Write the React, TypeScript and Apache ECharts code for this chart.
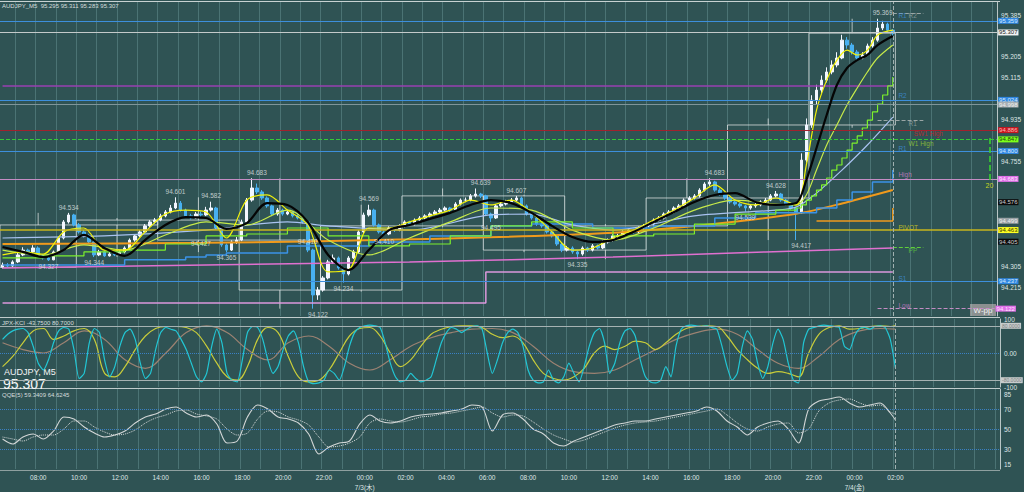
import React, { useEffect, useRef } from "react";
import * as echarts from "echarts";

// ---------------- categories: 15-minute slots from 7/2 06:15 ----------------
const N_SLOTS = 196;
const CATEGORIES: string[] = Array.from({ length: N_SLOTS }, (_, k) => {
  const m = 6 * 60 + 15 + 15 * k;
  const d = 2 + Math.floor(m / 1440);
  const mm = m % 1440;
  return `7/${d} ${String(Math.floor(mm / 60)).padStart(2, "0")}:${String(mm % 60).padStart(2, "0")}`;
});

const TIME_TICKS: [number, string][] = [
  [7, "08:00"], [15, "10:00"], [23, "12:00"], [31, "14:00"], [39, "16:00"], [47, "18:00"],
  [55, "20:00"], [63, "22:00"], [71, "00:00"], [79, "02:00"], [87, "04:00"], [95, "06:00"],
  [103, "08:00"], [111, "10:00"], [119, "12:00"], [127, "14:00"], [135, "16:00"], [143, "18:00"],
  [151, "20:00"], [159, "22:00"], [167, "00:00"], [175, "02:00"],
];
const DATE_TICKS: [number, string][] = [[71, "7/3(木)"], [167, "7/4(金)"]];

const PRICE_TICKS = [95.385, 95.205, 95.115, 94.935, 94.755, 94.305, 94.215];
const KCI_TICKS = [100, 0, -100];
const QQE_TICKS = [85, 70, 50, 30, 15];

// ---------------- 15-minute candles [open, close, low, high] ----------------
const CANDLES: number[][] = [
  [94.300,94.310,94.295,94.320],[94.310,94.306,94.298,94.318],[94.306,94.323,94.302,94.330],[94.323,94.353,94.318,94.362],
  [94.353,94.374,94.348,94.386],[94.374,94.366,94.358,94.380],[94.366,94.383,94.360,94.395],[94.383,94.349,94.342,94.390],
  [94.349,94.340,94.333,94.356],[94.340,94.332,94.327,94.348],[94.332,94.366,94.330,94.372],[94.366,94.426,94.360,94.432],
  [94.426,94.495,94.420,94.503],[94.495,94.525,94.488,94.534],[94.525,94.482,94.476,94.530],[94.482,94.452,94.445,94.490],
  [94.452,94.435,94.428,94.460],[94.435,94.409,94.400,94.442],[94.409,94.353,94.344,94.414],[94.353,94.366,94.348,94.375],
  [94.366,94.349,94.345,94.372],[94.349,94.357,94.346,94.365],[94.357,94.353,94.348,94.364],[94.353,94.366,94.350,94.372],
  [94.366,94.383,94.360,94.390],[94.383,94.417,94.378,94.424],[94.417,94.435,94.410,94.442],[94.435,94.452,94.430,94.460],
  [94.452,94.478,94.446,94.486],[94.478,94.495,94.470,94.503],[94.495,94.503,94.488,94.512],[94.503,94.521,94.498,94.530],
  [94.521,94.538,94.515,94.546],[94.538,94.555,94.532,94.568],[94.555,94.576,94.550,94.601],[94.576,94.546,94.540,94.585],
  [94.546,94.521,94.514,94.552],[94.521,94.512,94.505,94.530],[94.512,94.529,94.508,94.538],[94.529,94.525,94.516,94.540],
  [94.525,94.546,94.520,94.560],[94.546,94.555,94.540,94.582],[94.555,94.469,94.462,94.560],[94.469,94.396,94.388,94.474],
  [94.396,94.374,94.365,94.402],[94.374,94.409,94.370,94.416],[94.409,94.417,94.400,94.430],[94.417,94.495,94.412,94.505],
  [94.495,94.589,94.490,94.598],[94.589,94.641,94.582,94.683],[94.641,94.624,94.615,94.660],[94.624,94.598,94.590,94.632],
  [94.598,94.564,94.556,94.605],[94.564,94.529,94.520,94.570],[94.529,94.546,94.522,94.555],[94.546,94.529,94.522,94.552],
  [94.529,94.538,94.524,94.545],[94.538,94.521,94.514,94.542],[94.521,94.512,94.506,94.528],[94.512,94.495,94.488,94.518],
  [94.495,94.374,94.365,94.500],[94.374,94.181,94.122,94.380],[94.181,94.202,94.160,94.215],[94.202,94.254,94.195,94.262],
  [94.254,94.323,94.248,94.332],[94.323,94.340,94.315,94.355],[94.340,94.297,94.290,94.346],[94.297,94.271,94.234,94.300],
  [94.271,94.340,94.265,94.348],[94.340,94.366,94.335,94.375],[94.366,94.452,94.360,94.460],[94.452,94.525,94.446,94.535],
  [94.525,94.546,94.518,94.569],[94.546,94.482,94.475,94.552],[94.482,94.452,94.445,94.488],[94.452,94.443,94.436,94.458],
  [94.443,94.469,94.438,94.476],[94.469,94.460,94.452,94.474],[94.460,94.478,94.455,94.485],[94.478,94.495,94.472,94.502],
  [94.495,94.486,94.480,94.500],[94.486,94.503,94.480,94.510],[94.503,94.512,94.498,94.520],[94.512,94.521,94.506,94.528],
  [94.521,94.529,94.515,94.536],[94.529,94.538,94.524,94.546],[94.538,94.546,94.532,94.555],[94.546,94.555,94.540,94.562],
  [94.555,94.546,94.538,94.560],[94.546,94.572,94.542,94.580],[94.572,94.589,94.566,94.596],[94.589,94.589,94.580,94.600],
  [94.589,94.607,94.584,94.615],[94.607,94.615,94.600,94.639],[94.615,94.607,94.598,94.620],[94.607,94.529,94.522,94.612],
  [94.529,94.512,94.495,94.535],[94.512,94.564,94.508,94.572],[94.564,94.572,94.558,94.580],[94.572,94.581,94.566,94.590],
  [94.581,94.589,94.575,94.598],[94.589,94.598,94.584,94.607],[94.598,94.564,94.558,94.604],[94.564,94.529,94.522,94.570],
  [94.529,94.512,94.505,94.535],[94.512,94.486,94.478,94.518],[94.486,94.478,94.470,94.492],[94.478,94.452,94.445,94.484],
  [94.452,94.435,94.428,94.458],[94.435,94.400,94.392,94.440],[94.400,94.374,94.365,94.406],[94.374,94.383,94.368,94.392],
  [94.383,94.366,94.358,94.390],[94.366,94.357,94.335,94.372],[94.357,94.383,94.350,94.390],[94.383,94.374,94.366,94.388],
  [94.374,94.392,94.368,94.400],[94.392,94.383,94.376,94.398],[94.383,94.409,94.378,94.416],[94.409,94.417,94.402,94.424],
  [94.417,94.435,94.410,94.442],[94.435,94.435,94.426,94.444],[94.435,94.452,94.430,94.460],[94.452,94.460,94.446,94.468],
  [94.460,94.452,94.445,94.466],[94.452,94.469,94.447,94.476],[94.469,94.478,94.462,94.486],[94.478,94.486,94.472,94.494],
  [94.486,94.503,94.480,94.510],[94.503,94.512,94.498,94.520],[94.512,94.529,94.506,94.536],[94.529,94.538,94.522,94.546],
  [94.538,94.555,94.532,94.562],[94.555,94.564,94.548,94.572],[94.564,94.589,94.558,94.596],[94.589,94.598,94.582,94.606],
  [94.598,94.607,94.592,94.615],[94.607,94.632,94.600,94.640],[94.632,94.658,94.626,94.666],[94.658,94.667,94.650,94.683],
  [94.667,94.632,94.625,94.672],[94.632,94.615,94.608,94.640],[94.615,94.598,94.590,94.622],[94.598,94.581,94.574,94.604],
  [94.581,94.572,94.565,94.586],[94.572,94.564,94.556,94.578],[94.564,94.555,94.539,94.568],[94.555,94.564,94.548,94.570],
  [94.564,94.568,94.556,94.576],[94.568,94.581,94.562,94.588],[94.581,94.589,94.575,94.598],[94.589,94.607,94.584,94.615],
  [94.607,94.615,94.600,94.628],[94.615,94.589,94.582,94.620],[94.589,94.572,94.565,94.594],[94.572,94.555,94.548,94.578],
  [94.555,94.538,94.417,94.560],[94.538,94.761,94.530,94.790],[94.761,94.912,94.750,94.940],[94.912,95.019,94.900,95.040],
  [95.019,95.062,95.000,95.085],[95.062,95.105,95.050,95.125],[95.105,95.140,95.095,95.160],[95.140,95.170,95.130,95.190],
  [95.170,95.200,95.160,95.225],[95.200,95.277,95.195,95.300],[95.277,95.256,95.240,95.290],[95.256,95.226,95.215,95.265],
  [95.226,95.200,95.190,95.235],[95.200,95.213,95.195,95.225],[95.213,95.252,95.208,95.262],[95.252,95.277,95.245,95.290],
  [95.277,95.329,95.270,95.369],[95.329,95.346,95.320,95.360],[95.346,95.320,95.310,95.352],[95.320,95.307,95.295,95.325],
];

// H4 block starts (slot index) – candles are grouped into these blocks
const H4_STARTS = [0, 15, 31, 47, 63, 79, 95, 111, 127, 143, 159];

// ---------------- moving averages / bands [slot, price] ----------------
const BLACK_MA = [[0,94.387],[4,94.366],[8,94.344],[12,94.374],[16,94.439],[20,94.383],[24,94.349],[28,94.417],[32,94.482],[36,94.516],[40,94.512],[44,94.465],[48,94.490],[52,94.576],[56,94.568],[60,94.495],[64,94.353],[68,94.288],[72,94.374],[76,94.460],[80,94.482],[84,94.508],[88,94.534],[92,94.568],[96,94.589],[100,94.576],[104,94.534],[108,94.478],[112,94.430],[116,94.409],[120,94.417],[124,94.452],[128,94.495],[132,94.538],[136,94.581],[140,94.611],[144,94.619],[148,94.581],[152,94.568],[156,94.576],[158,94.675],[160,94.813],[162,94.955],[164,95.084],[166,95.157],[168,95.191],[170,95.213],[172,95.256],[175,95.295]];
const YELLOW_MA = [[0,94.353],[4,94.366],[8,94.357],[12,94.452],[16,94.469],[20,94.374],[24,94.374],[28,94.452],[32,94.529],[36,94.546],[40,94.538],[44,94.426],[48,94.589],[52,94.611],[56,94.546],[60,94.482],[64,94.280],[68,94.288],[72,94.469],[76,94.469],[80,94.495],[84,94.521],[88,94.546],[92,94.589],[96,94.568],[100,94.589],[104,94.534],[108,94.452],[112,94.374],[116,94.383],[120,94.426],[124,94.460],[128,94.503],[132,94.546],[136,94.598],[140,94.654],[144,94.589],[148,94.568],[152,94.598],[156,94.568],[158,94.740],[160,94.976],[162,95.105],[164,95.191],[166,95.234],[168,95.213],[170,95.234],[172,95.299],[175,95.320]];
const LIME_MA = [[0,94.374],[8,94.353],[16,94.396],[24,94.374],[32,94.439],[40,94.495],[48,94.482],[56,94.546],[64,94.417],[72,94.353],[80,94.426],[88,94.495],[96,94.555],[104,94.546],[112,94.460],[120,94.417],[128,94.469],[136,94.546],[144,94.589],[152,94.572],[156,94.568],[158,94.611],[160,94.718],[162,94.826],[164,94.912],[166,94.998],[168,95.071],[170,95.140],[172,95.200],[175,95.256]];
const GREEN_STEP = [[0,94.340],[8,94.349],[16,94.366],[24,94.374],[32,94.400],[40,94.435],[48,94.443],[56,94.469],[64,94.435],[72,94.392],[80,94.400],[88,94.435],[96,94.478],[104,94.495],[112,94.469],[120,94.435],[128,94.443],[136,94.486],[144,94.529],[152,94.546],[156,94.555],[157,94.568],[158,94.589],[159,94.607],[160,94.632],[161,94.654],[162,94.684],[163,94.718],[164,94.740],[165,94.770],[166,94.804],[167,94.834],[168,94.865],[169,94.899],[170,94.933],[171,94.968],[172,95.002],[173,95.041],[174,95.080],[175,95.118]];
const STEEL_MA = [[0,94.426],[20,94.435],[40,94.460],[56,94.495],[64,94.478],[80,94.460],[96,94.525],[104,94.529],[112,94.482],[120,94.460],[136,94.521],[152,94.546],[156,94.559],[160,94.619],[165,94.718],[170,94.826],[175,94.946]];
const BLUE_STEP = [[0,94.310],[12,94.310],[24,94.332],[36,94.344],[40,94.353],[44,94.361],[56,94.392],[72,94.409],[84,94.435],[96,94.478],[104,94.486],[116,94.469],[128,94.478],[140,94.512],[148,94.534],[156,94.534],[160,94.555],[164,94.589],[167,94.624],[171,94.667],[175,94.718]];
const ORANGE_MA = [[0,94.400],[40,94.405],[80,94.420],[117,94.445],[137,94.480],[156,94.530],[166,94.580],[175,94.632]];
const ORANGE_STEP = [[160,94.499],[174,94.499],[175,94.555]];
const PINK_MA = [[0,94.297],[40,94.310],[80,94.323],[120,94.344],[150,94.366],[175,94.383]];
const PINK_STEP = [[0,94.146],[94,94.146],[95,94.280],[175,94.280]];
const PURPLE_LINE = [[0,95.080],[175,95.080]];

// ---------------- horizontal levels (full width, with right-axis tags) ----------------
const LEVELS = [95.359, 95.307, 95.024, 94.998, 94.886, 94.847, 94.800, 94.683, 94.576, 94.499, 94.463, 94.405, 94.237];
const LOW_LEVEL = 94.122;
// short segments [fromSlot, toSlot, price]
const SEGMENTS = [[175, 181, 95.394], [172, 181, 94.933], [175, 181, 94.387]];
// level notes [slot, price, text]
const NOTES: [number, number, string][] = [
  [176, 95.381, "R1"], [178, 95.381, "R2"], [176, 95.037, "R2"], [178, 94.920, "R1"],
  [179, 94.877, "SW1 High"], [178, 94.834, "W1 High"], [176, 94.813, "R1"], [176, 94.697, "High"],
  [176, 94.469, "PIVOT"], [178, 94.370, "PP"], [176, 94.250, "S1"], [176, 94.134, "Low"],
];
// swing high / low labels [slot, price, side]
const SWINGS: [number, number, string][] = [
  [13, 94.534, "t"], [9, 94.327, "b"], [18, 94.344, "b"], [34, 94.601, "t"], [41, 94.582, "t"],
  [39, 94.427, "b"], [44, 94.365, "b"], [50, 94.683, "t"], [60, 94.410, "c"], [75, 94.410, "c"],
  [62, 94.122, "b"], [67, 94.234, "b"], [72, 94.569, "t"], [94, 94.639, "t"], [96, 94.495, "b"],
  [101, 94.607, "t"], [113, 94.335, "b"], [140, 94.683, "t"], [146, 94.539, "b"], [152, 94.628, "t"],
  [157, 94.417, "b"], [173, 95.369, "t"],
];
const MEASURE = [194, 94.856, 94.675, "20"];

// ---------------- JPX-KCI oscillator ----------------
const KCI_CYAN = [40,55,65,70,72,60,20,-30,-50,-20,30,65,75,70,10,-75,-60,30,72,60,-20,-70,-40,20,60,70,40,-30,-75,-60,10,60,75,70,65,40,10,-30,-70,-85,-60,20,70,30,-60,-80,-85,-20,60,78,75,40,-20,-60,-40,10,50,65,30,-40,-85,-90,-88,-80,-50,-60,-80,-40,20,60,75,80,82,80,75,30,-30,-70,-85,-80,-60,-75,-85,-80,-70,-20,30,60,75,70,60,70,78,80,70,0,-60,-20,30,60,70,60,20,-50,-80,-88,-85,-50,-80,-88,-70,-30,-60,-85,-40,20,60,72,30,-60,-30,30,65,72,50,-20,-70,-85,-88,-80,-40,-70,20,70,80,82,80,78,80,75,70,20,-40,-80,-60,20,65,40,-30,-75,-40,30,70,40,-30,-80,-88,30,70,75,80,82,80,78,75,20,10,50,72,75,70,78,80,75,40,-44];
const KCI_YELLOW = [[0,-40],[2,-10],[4,30],[6,65],[8,72],[10,40],[12,50],[14,65],[16,72],[18,40],[20,-60],[22,-70],[24,-40],[26,10],[28,50],[30,72],[32,78],[34,78],[36,75],[38,60],[40,20],[42,-30],[44,-70],[46,-80],[48,-40],[50,40],[52,75],[54,60],[56,-10],[58,-70],[60,-85],[62,-80],[64,-50],[66,0],[68,50],[70,72],[72,75],[74,50],[76,0],[78,-40],[80,-20],[82,20],[84,55],[86,70],[88,78],[90,80],[92,80],[94,75],[96,55],[98,45],[100,50],[102,30],[104,-20],[106,-60],[108,-75],[110,-80],[112,-70],[114,-45],[116,0],[118,20],[120,10],[122,20],[124,35],[126,30],[128,10],[130,30],[132,55],[134,72],[136,78],[138,80],[140,78],[142,50],[144,10],[146,-20],[148,-45],[150,-60],[152,-55],[154,-60],[156,-70],[158,0],[160,55],[162,75],[164,80],[166,70],[168,72],[170,78],[172,80],[174,78],[175,81]];
const KCI_BROWN = [[0,30],[4,10],[8,0],[12,30],[16,65],[20,40],[24,-20],[28,-45],[32,0],[36,60],[40,80],[44,60],[48,10],[52,-20],[56,30],[60,50],[64,20],[68,-30],[72,-50],[76,-20],[80,20],[84,45],[88,60],[92,70],[96,72],[100,60],[104,20],[108,-30],[112,-55],[116,-60],[120,-50],[124,-20],[128,10],[132,40],[136,60],[140,70],[144,55],[148,10],[152,-30],[156,-45],[160,-10],[164,40],[168,65],[172,72],[175,70]];

// ---------------- QQE ----------------
const QQE_MAIN = [[0,40],[2,35],[4,42],[6,45],[8,40],[10,48],[12,62],[14,60],[16,52],[18,46],[20,42],[22,44],[24,48],[26,56],[28,62],[30,65],[32,70],[34,72],[36,66],[38,62],[40,64],[42,55],[44,36],[46,38],[48,62],[50,74],[52,70],[54,62],[56,60],[58,56],[60,45],[62,25],[64,32],[66,36],[68,38],[70,55],[72,64],[74,58],[76,56],[78,58],[80,62],[82,64],[84,65],[86,66],[88,68],[90,70],[92,74],[94,72],[96,48],[98,64],[100,66],[102,60],[104,50],[106,45],[108,36],[110,33],[112,38],[114,42],[116,46],[118,50],[120,54],[122,56],[124,58],[126,58],[128,60],[130,62],[132,64],[134,66],[136,68],[138,72],[140,68],[142,58],[144,52],[146,44],[148,52],[150,56],[152,58],[154,50],[156,36],[158,70],[160,78],[162,80],[164,82],[166,76],[168,72],[170,74],[172,76],[174,66],[175,59]];
const QQE_SIGNAL = [[0,42],[2,40],[4,38],[6,42],[8,44],[10,44],[12,50],[14,58],[16,58],[18,52],[20,47],[22,44],[24,45],[26,49],[28,56],[30,61],[32,64],[34,68],[36,69],[38,65],[40,63],[42,60],[44,50],[46,44],[48,46],[50,60],[52,68],[54,67],[56,62],[58,59],[60,54],[62,42],[64,32],[66,33],[68,36],[70,42],[72,56],[74,60],[76,58],[78,57],[80,59],[82,62],[84,63],[86,65],[88,66],[90,68],[92,70],[94,72],[96,66],[98,62],[100,64],[102,63],[104,57],[106,50],[108,44],[110,40],[112,37],[114,39],[116,43],[118,47],[120,51],[122,54],[124,56],[126,57],[128,58],[130,60],[132,62],[134,64],[136,66],[138,68],[140,70],[142,64],[144,56],[146,50],[148,48],[150,52],[152,55],[154,56],[156,46],[158,50],[160,68],[162,76],[164,79],[166,80],[168,76],[170,73],[172,74],[174,67],[175,65]];

// ---------------- styles ----------------
const BG = "#2f5354";
const FONT = "Liberation Sans, 'Noto Sans CJK JP', sans-serif";
const GRID_LINE = "rgba(150,200,200,0.28)";
const AXIS_COLOR = "#b9c6c6";
const LABEL_COLOR = "#dfe6e6";
const BLUE = "#3d8fdc";
const LEVEL_STYLE = [
  { line: BLUE, tag: "#2f86e0", text: "#d8ecff" },
  { line: "#c4caca", tag: "#f2f2f2", text: "#202020" },
  { line: BLUE, tag: "#2f86e0", text: "#d8ecff" },
  { line: "#7f9599", tag: "#a6aeb2", text: "#eeeeee" },
  { line: "#a3212d", tag: "#c8141e", text: "#ffb8b8" },
  { line: "#36c936", tag: "#7cff1a", text: "#1c3c10", type: "dashed" },
  { line: BLUE, tag: "#2f86e0", text: "#d8ecff" },
  { line: "#c48cc4", tag: "#e070e8", text: "#ffe4ff" },
  { line: "transparent", tag: "#0b0b0b", text: "#d0d0d0" },
  { line: "transparent", tag: "#9aa2a6", text: "#eeeeee" },
  { line: "#c9b51c", tag: "#ffff22", text: "#303000", width: 1.5 },
  { line: "transparent", tag: "#0b0b0b", text: "#d0d0d0" },
  { line: BLUE, tag: "#2f86e0", text: "#d8ecff" },
];
const SEGMENT_COLORS = ["#9aa6a6", "#9aa6a6", "#5fcf3a"];
const NOTE_COLORS = ["#3d8fdc", "#9aa6a6", "#3d8fdc", "#9aa6a6", "#d0202c", "#9acd32", "#3d8fdc", "#d080d0", "#d8d020", "#5fcf3a", "#3d8fdc", "#d080d0"];

function tagLabel(text: string, bg: string, color: string, size = 6) {
  return {
    show: true, position: "end", formatter: text, backgroundColor: bg, color,
    fontSize: size, lineHeight: 6, fontFamily: FONT, padding: [0, 1, 0, 1], distance: 1,
  };
}

function buildOption() {
  const timeMap = new Map(TIME_TICKS);
  const dateMap = new Map(DATE_TICKS);

  const h4Rows = H4_STARTS.map((s, i) => {
    const e = i + 1 < H4_STARTS.length ? H4_STARTS[i + 1] - 1 : CANDLES.length - 1;
    const block = CANDLES.slice(s, e + 1);
    const o = block[0][0];
    const c = block[block.length - 1][1];
    const l = Math.min(...block.map((r) => r[2]));
    const h = Math.max(...block.map((r) => r[3]));
    return [s, e, o, c, h, l];
  });

  const levelLines: any[] = LEVELS.map((v, i) => ({
    yAxis: v,
    lineStyle: { color: LEVEL_STYLE[i].line, width: LEVEL_STYLE[i].width || 1, type: LEVEL_STYLE[i].type || "solid" },
    label: tagLabel(v.toFixed(3), LEVEL_STYLE[i].tag, LEVEL_STYLE[i].text),
  }));
  levelLines.push([
    { coord: [172, LOW_LEVEL], lineStyle: { color: "#c48cc4", width: 1 }, label: tagLabel(LOW_LEVEL.toFixed(3), "#e070e8", "#ffe4ff") },
    { coord: [195, LOW_LEVEL] },
  ]);
  SEGMENTS.forEach((s, i) => {
    levelLines.push([
      { coord: [s[0], s[2]], lineStyle: { color: SEGMENT_COLORS[i], width: 1 }, label: { show: false } },
      { coord: [s[1], s[2]] },
    ]);
  });
  levelLines.push([
    { coord: [MEASURE[0], MEASURE[1]], lineStyle: { color: "#39d92c", width: 1.5 },
      label: { show: true, position: "end", formatter: MEASURE[3], color: "#c8d820", fontSize: 7, fontFamily: FONT, distance: 2 } },
    { coord: [MEASURE[0], MEASURE[2]] },
  ]);
  levelLines.push({ xAxis: 175, lineStyle: { color: "#9fb0b0", width: 1 }, label: { show: false } });

  const line = (data: any, color: string, width: number, extra: any = {}) => ({
    type: "line", xAxisIndex: 0, yAxisIndex: 0, data, symbol: "none", silent: true,
    lineStyle: { color, width }, z: 3, ...extra,
  });

  const xAxes = [0, 1, 2].map((i) => ({
    type: "category", gridIndex: i, data: CATEGORIES, boundaryGap: true,
    axisLine: { show: false }, axisTick: { show: false },
    axisLabel: i === 2
      ? {
          show: true, interval: (idx: number) => timeMap.has(idx),
          formatter: (_: string, idx: number) => (dateMap.has(idx) ? `${timeMap.get(idx)}\n${dateMap.get(idx)}` : timeMap.get(idx) || ""),
          color: LABEL_COLOR, fontSize: 6.5, fontFamily: FONT, lineHeight: 10, margin: 3,
        }
      : { show: false },
    splitLine: { show: true, interval: (idx: number) => idx % 4 === 3, lineStyle: { color: GRID_LINE, width: 1 } },
  }));

  const yBase = {
    type: "value", position: "right",
    axisLine: { show: true, lineStyle: { color: AXIS_COLOR } },
    axisTick: { show: false }, splitLine: { show: false },
  };

  return {
    backgroundColor: BG,
    animation: false,
    textStyle: { fontFamily: FONT },
    grid: [
      { left: 0, right: 24, top: 2, height: 314 },
      { left: 0, right: 24, top: 319, height: 68 },
      { left: 0, right: 24, top: 389, height: 81 },
    ],
    xAxis: xAxes,
    yAxis: [
      { ...yBase, gridIndex: 0, min: 94.0904, max: 95.441,
        axisLabel: { customValues: PRICE_TICKS, formatter: (v: number) => v.toFixed(3), color: LABEL_COLOR, fontSize: 6.5, fontFamily: FONT, margin: 4 } },
      { ...yBase, gridIndex: 1, min: -100, max: 100,
        axisLabel: { customValues: KCI_TICKS, formatter: (v: number) => (v === 0 ? "0.00" : String(v)), color: LABEL_COLOR, fontSize: 6.5, fontFamily: FONT, margin: 4 } },
      { ...yBase, gridIndex: 2, min: 10, max: 90,
        axisLabel: { customValues: QQE_TICKS, formatter: (v: number) => String(v), color: LABEL_COLOR, fontSize: 6.5, fontFamily: FONT, margin: 4 } },
    ],
    series: [
      {
        type: "custom", xAxisIndex: 0, yAxisIndex: 0, data: h4Rows, silent: true, z: 1,
        encode: { x: [0, 1], y: [2, 3, 4, 5] },
        renderItem: (params: any, api: any) => {
          const s = api.value(0), e = api.value(1), o = api.value(2), c = api.value(3), h = api.value(4), l = api.value(5);
          const bw = api.size([1, 0])[0];
          const x0 = api.coord([s, o])[0] - bw / 2;
          const x1 = api.coord([e, o])[0] + bw / 2;
          const yo = api.coord([s, o])[1], yc = api.coord([s, c])[1];
          const yh = api.coord([s, h])[1], yl = api.coord([s, l])[1];
          const top = Math.min(yo, yc), bot = Math.max(yo, yc);
          const xm = (x0 + x1) / 2;
          const st = { stroke: "rgba(225,230,230,0.75)", lineWidth: 1, fill: "none" };
          return {
            type: "group",
            children: [
              { type: "rect", shape: { x: x0, y: top, width: x1 - x0, height: Math.max(1, bot - top) }, style: st },
              { type: "line", shape: { x1: xm, y1: yh, x2: xm, y2: top }, style: st },
              { type: "line", shape: { x1: xm, y1: bot, x2: xm, y2: yl }, style: st },
            ],
          };
        },
      },
      line(PURPLE_LINE, "#9a3fb2", 1.5),
      line(PINK_STEP, "#dc98dc", 1.5, { step: "end" }),
      line(PINK_MA, "#e070d0", 1.5, { smooth: 0.3 }),
      line(ORANGE_MA, "#f09a1c", 2, { smooth: 0.3 }),
      line(ORANGE_STEP, "#f09a1c", 1.5, { step: "end" }),
      line(BLUE_STEP, "#3b93e6", 1.5, { step: "end" }),
      line(STEEL_MA, "#a9c2f0", 1.2, { smooth: 0.3 }),
      line(GREEN_STEP, "#7cf02c", 1.2, { step: "end" }),
      {
        type: "candlestick", xAxisIndex: 0, yAxisIndex: 0, data: CANDLES, barWidth: 3, silent: true, z: 2,
        itemStyle: { color: "#f2f6ff", color0: "#48b0f0", borderColor: "#f2f6ff", borderColor0: "#48b0f0", borderWidth: 1 },
        markLine: { symbol: ["none", "none"], silent: true, animation: false, data: levelLines },
      },
      line(LIME_MA, "#c6ea4a", 1.2, { smooth: 0.3, z: 4 }),
      line(YELLOW_MA, "#f2f20a", 1.2, { smooth: 0.3, z: 4 }),
      line(BLACK_MA, "#050505", 2.2, { smooth: 0.3, z: 5 }),
      {
        type: "scatter", xAxisIndex: 0, yAxisIndex: 0, symbolSize: 1, silent: true, z: 6,
        itemStyle: { color: "transparent" },
        data: SWINGS.map(([k, v, side]) => ({
          value: [k, v],
          label: { position: side === "t" ? "top" : side === "b" ? "bottom" : "inside" },
        })),
        label: { show: true, formatter: (p: any) => p.value[1].toFixed(3), color: "#e2e8e8", fontSize: 6.5, fontFamily: FONT, distance: 2 },
      },
      {
        type: "scatter", xAxisIndex: 0, yAxisIndex: 0, symbolSize: 1, silent: true, z: 6,
        itemStyle: { color: "transparent" },
        data: NOTES.map(([k, v, t], i) => ({ value: [k, v], name: t, label: { color: NOTE_COLORS[i] } })),
        label: { show: true, position: "right", distance: 0, formatter: (p: any) => p.name, fontSize: 6.5, fontFamily: FONT },
      },
      // JPX-KCI
      {
        type: "line", xAxisIndex: 1, yAxisIndex: 1, data: KCI_BROWN, symbol: "none", smooth: 0.4, silent: true,
        lineStyle: { color: "#9c8272", width: 1.2 },
        markLine: {
          symbol: ["none", "none"], silent: true, animation: false,
          data: [
            { yAxis: 0, lineStyle: { color: "#3a80c4", type: "dotted", width: 1 }, label: { show: false } },
            { yAxis: 80, lineStyle: { color: "#a6b2b2", type: "solid", width: 1 }, label: tagLabel("80.0000", "#c8cccc", "#7a8080", 5) },
            { yAxis: -80, lineStyle: { color: "#a6b2b2", type: "solid", width: 1 }, label: tagLabel("-80.0000", "#c8cccc", "#7a8080", 5) },
            { xAxis: 175, lineStyle: { color: "#9fb0b0", width: 1 }, label: { show: false } },
          ],
        },
      },
      { type: "line", xAxisIndex: 1, yAxisIndex: 1, data: KCI_YELLOW, symbol: "none", smooth: 0.4, silent: true, lineStyle: { color: "#c8cc3a", width: 1.2 } },
      { type: "line", xAxisIndex: 1, yAxisIndex: 1, data: KCI_CYAN, symbol: "none", smooth: 0.2, silent: true, lineStyle: { color: "#22c6d4", width: 1.2 } },
      // QQE
      {
        type: "line", xAxisIndex: 2, yAxisIndex: 2, data: QQE_SIGNAL, symbol: "none", smooth: 0.3, silent: true,
        lineStyle: { color: "#d6dada", width: 1, type: "dotted" },
        markLine: {
          symbol: ["none", "none"], silent: true, animation: false,
          data: [
            { yAxis: 70, lineStyle: { color: "#3a80c4", type: "dotted", width: 1 }, label: { show: false } },
            { yAxis: 50, lineStyle: { color: "#3a80c4", type: "dotted", width: 1 }, label: { show: false } },
            { yAxis: 30, lineStyle: { color: "#3a80c4", type: "dotted", width: 1 }, label: { show: false } },
            { xAxis: 175, lineStyle: { color: "#9fb0b0", width: 1 }, label: { show: false } },
          ],
        },
      },
      { type: "line", xAxisIndex: 2, yAxisIndex: 2, data: QQE_MAIN, symbol: "none", smooth: 0.3, silent: true, lineStyle: { color: "#d2d6d6", width: 1.1 } },
    ],
    graphic: [
      { type: "line", shape: { x1: 0, y1: 1.5, x2: 1000, y2: 1.5 }, style: { stroke: "#c8d2d2", lineWidth: 1 }, silent: true },
      { type: "line", shape: { x1: 0, y1: 317.5, x2: 1000, y2: 317.5 }, style: { stroke: "#c0cccc", lineWidth: 1 }, silent: true },
      { type: "line", shape: { x1: 0, y1: 388.5, x2: 1000, y2: 388.5 }, style: { stroke: "#c0cccc", lineWidth: 1 }, silent: true },
      { type: "line", shape: { x1: 0, y1: 470.5, x2: 1000, y2: 470.5 }, style: { stroke: "#8fa0a0", lineWidth: 1 }, silent: true },
      { type: "text", x: 2, y: 3, style: { text: "AUDJPY_M5  95.295 95.311 95.283 95.307", fill: "#d6dede", fontSize: 6, fontFamily: FONT, verticalAlign: "top" }, silent: true },
      { type: "text", x: 2, y: 320, style: { text: "JPX-KCI -43.7500 80.7000", fill: "#d6dede", fontSize: 6, fontFamily: FONT, verticalAlign: "top" }, silent: true },
      { type: "text", x: 4, y: 367, style: { text: "AUDJPY, M5", fill: "#f4f4f4", fontSize: 9, fontFamily: FONT, verticalAlign: "top" }, silent: true },
      { type: "text", x: 3, y: 377, style: { text: "95.307", fill: "#f8f8f8", fontSize: 14, fontFamily: FONT, verticalAlign: "top" }, silent: true },
      { type: "text", x: 2, y: 392, style: { text: "QQE(5) 59.3409 64.6245", fill: "#d6dede", fontSize: 6, fontFamily: FONT, verticalAlign: "top" }, silent: true },
      { type: "rect", shape: { x: 970, y: 304, width: 26, height: 12 }, style: { fill: "#8c9090" }, silent: true },
      { type: "text", x: 983, y: 310, style: { text: "W-pp", fill: "#f2f2f2", fontSize: 8, fontFamily: FONT, align: "center", verticalAlign: "middle" }, silent: true },
    ],
  };
}

export default function App() {
  const ref = useRef<HTMLDivElement>(null);
  useEffect(() => {
    if (!ref.current) return;
    const chart = echarts.init(ref.current, undefined, { renderer: "svg" });
    chart.setOption(buildOption() as any);
    return () => chart.dispose();
  }, []);
  return <div ref={ref} style={{ position: "fixed", left: 0, top: 0, width: 1024, height: 492 }} />;
}
